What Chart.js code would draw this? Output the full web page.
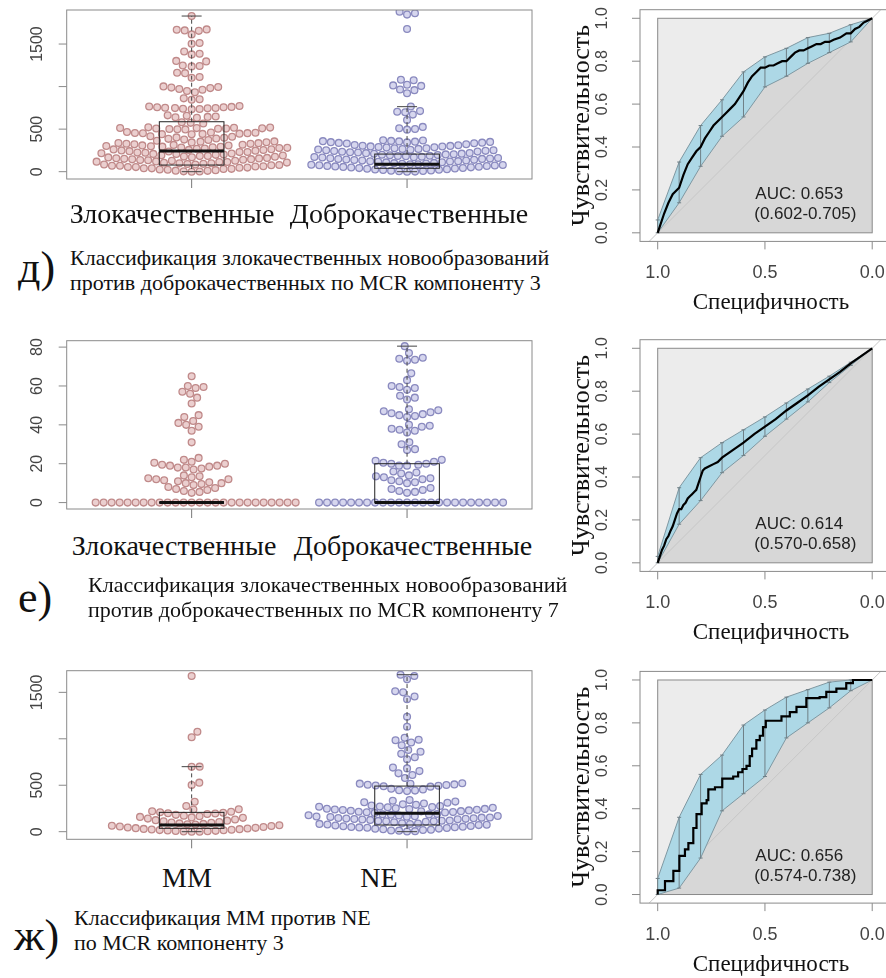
<!DOCTYPE html>
<html>
<head>
<meta charset="utf-8">
<script src="https://cdn.jsdelivr.net/npm/chart.js@4.4.0/dist/chart.umd.min.js"></script>
<style>
  html, body { margin: 0; padding: 0; background: #fff; width: 886px; height: 978px; overflow: hidden; position: relative; }
  canvas { position: absolute; }
  .t { position: absolute; font-family: "Liberation Serif", "DejaVu Serif", "Noto Serif", "Tinos", "Times New Roman", Times, "Nimbus Roman", FreeSerif, Georgia, serif; color: #111; white-space: nowrap; }
  .grp { font-size: 28px; transform: translateX(-50%); }
  .num { font-size: 44px; line-height: 44px; }
  .cap { font-size: 22px; line-height: 25px; }
</style>
</head>
<body>
<canvas id="sw1" width="560" height="200" style="left:0;top:0"></canvas>
<canvas id="roc1" width="350" height="320" style="left:560px;top:0"></canvas>
<canvas id="sw2" width="560" height="200" style="left:0;top:330px"></canvas>
<canvas id="roc2" width="350" height="320" style="left:560px;top:325px"></canvas>
<canvas id="sw3" width="560" height="200" style="left:0;top:660px"></canvas>
<canvas id="roc3" width="350" height="323" style="left:560px;top:655px"></canvas>

<div class="t num" style="left:18px;top:246px">д)</div>
<div class="t cap" style="left:70px;top:245px">Классификация злокачественных новообразований<br>против доброкачественных по MCR компоненту 3</div>
<div class="t num" style="left:18px;top:576px">е)</div>
<div class="t cap" style="left:88px;top:572px">Классификация злокачественных новообразований<br>против доброкачественных по MCR компоненту 7</div>
<div class="t num" style="left:14px;top:914px">ж)</div>
<div class="t cap" style="left:74px;top:905px">Классификация MM против NE<br>по MCR компоненту 3</div>

<script>
// ---- data: д) MCR component 3, malignant vs benign ----
const groups1 = ["Злокачественные", "Доброкачественные"];
const malig3 = [1829, 1668, 1660, 1655, 1672, 1613, 1512, 1503, 1412, 1386, 1378, 1302, 1296, 1248, 1237, 1242, 1163, 1158, 1112, 1104,
  995, 988, 982, 972, 963, 1002, 948, 932, 862, 851, 846,
  772, 766, 761, 757, 751, 747, 744, 739, 736, 733, 758, 749, 662, 656, 648, 644, 639, 633, 581, 574, 566,
  521, 516, 512, 509, 507, 504, 501, 499, 518, 506, 514, 497, 466, 461, 455, 451, 447, 444, 439, 453, 458, 441,
  403, 410, 417, 363, 372, 377, 386, 390, 399,
  321, 327, 329, 335, 337, 344, 346, 353, 356,
  280, 285, 287, 292, 294, 299, 301, 307, 309, 315, 317,
  241, 247, 250, 254, 256, 262, 264, 270, 272, 278,
  201, 207, 209, 214, 216, 222, 224, 230, 232, 238,
  162, 168, 169, 175, 177, 183, 185, 191, 194, 198,
  121, 127, 128, 134, 136, 140, 145, 147, 151, 156, 158,
  83, 85, 91, 92, 98, 99, 105, 107, 113, 114, 118,
  41, 47, 48, 54, 55, 61, 63, 69, 70, 76, 78,
  0, 3, 4, 10, 12, 18, 22, 25, 31, 33, 39];
const benign3 = [1880, 1862, 1846, 1677, 1081, 1074, 1021, 1014, 1008, 966, 958, 921,
  766, 712, 704, 699, 671, 606, 526, 511, 502, 494,
  322, 331, 334, 338, 341, 344, 347, 350, 353, 356, 359, 362, 366, 369,
  283, 286, 290, 296, 297, 303, 305, 311, 313,
  243, 245, 251, 252, 258, 260, 266, 268, 274, 276,
  203, 205, 211, 212, 218, 220, 226, 228, 234, 236,
  161, 166, 170, 173, 176, 181, 184, 187, 192, 195, 199,
  123, 124, 130, 132, 138, 139, 143, 149, 150, 154, 157,
  81, 87, 88, 94, 96, 100, 103, 109, 110, 116, 119,
  42, 44, 49, 51, 56, 58, 62, 66, 68, 73, 75, 79,
  0, 1, 6, 8, 11, 15, 19, 23, 26, 30, 34, 38];
// box stats: low whisker, Q1, median, Q3, high whisker
const boxMalig3 = [0, 78, 243, 587, 1829];
const boxBenign3 = [0, 40, 86, 207, 764];
const yTicks1 = [0, 500, 1000, 1500];
const yTickLabels1 = ["0", "500", "", "1500"];

// ---- data: е) MCR component 7 ----
const malig7 = [65, 60, 59.5, 59, 57, 56, 54, 51, 45, 44, 42, 41, 40, 39, 37, 31,
  23, 22, 21, 20.5, 20, 19.5, 19, 19, 18.5, 18, 18, 17.5, 17,
  14, 13.5, 13, 12.5, 12, 12, 11.5, 11, 10.5, 10, 10, 9.5, 9, 8, 7.5, 7, 6.5, 6, 5.5, 5,
  0, 0, 0, 0, 0, 0, 0, 0, 0, 0, 0, 0, 0, 0, 0, 0, 0, 0, 0, 0, 0, 0, 0, 0, 0, 0];
const benign7 = [80.5, 77, 74.5, 74, 73.5, 73, 66.5, 63, 60, 59.5, 59, 58, 55, 54, 53,
  48, 47.5, 47, 46.5, 46, 45, 44.5, 44, 45.5, 40, 39.5, 39, 38, 37.5, 37, 36, 31, 30, 27.5, 27,
  22, 21.5, 21, 20.5, 20, 20, 19.5, 19, 19, 16, 15.5, 15, 14, 13.5, 13, 12.5, 12, 11, 10, 10.5, 11.5,
  7.5, 7, 6.5, 6, 5.5, 5,
  0, 0, 0, 0, 0, 0, 0, 0, 0, 0, 0, 0, 0, 0, 0, 0, 0, 0, 0, 0, 0, 0, 0, 0];
const boxMalig7 = [0, 0, 0, 0, 0];
const boxBenign7 = [0, 0, 0, 20, 80.5];
const yTicks2 = [0, 20, 40, 60, 80];
const yTickLabels2 = ["0", "20", "40", "60", "80"];

// ---- data: ж) MM vs NE, MCR component 3 ----
const groups3 = ["MM", "NE"];
const mm3 = [1676, 1076, 1016, 700, 698, 528, 503, 323, 277, 241, 238,
  220, 215, 209, 204, 199, 196, 190, 181, 172, 166, 159, 154, 149,
  141, 131, 124, 119, 111, 104, 99, 95, 89, 84, 79, 76, 69, 64, 61, 55, 50,
  45, 41, 38, 34, 30, 27, 24, 20, 17, 15, 12, 9, 7, 5, 3, 0, 0];
const ne3 = [1690, 1676, 1640, 1512, 1500, 1455, 1425, 1238, 1130, 1010, 990, 985, 960, 930,
  880, 861, 838, 801, 779, 690, 681, 652, 628, 611, 578,
  522, 517, 515, 509, 506, 503, 497, 494, 489, 485, 462, 455, 447, 442, 437,
  340, 333, 324, 317, 311, 303, 294, 289, 281, 277, 270,
  268, 263, 257, 253, 247, 243, 238, 233, 229, 221, 219, 214, 209, 207, 202, 265, 245, 236, 226, 211,
  191, 186, 183, 177, 174, 169, 167, 161, 158, 153, 151, 147, 141, 138, 133, 131, 127, 121, 118, 113, 111, 107, 102, 188, 144,
  116, 136, 164,
  91, 87, 82, 77, 74, 71, 66, 61, 58, 54, 51, 46, 42, 39, 33, 31, 26, 21, 18, 13, 11, 6, 2, 84, 48];
const boxMM3 = [0, 36, 72, 208, 700];
const boxNE3 = [0, 72, 198, 491, 1690];
const yTicks3 = [0, 500, 1000, 1500];
const yTickLabels3 = ["0", "500", "", "1500"];

// ---- ROC curves ----
const ciSpec = [1.0, 0.9, 0.8, 0.7, 0.6, 0.5, 0.4, 0.3, 0.2, 0.1, 0.0];
const rocTicksY = [0, 0.2, 0.4, 0.6, 0.8, 1.0];
const rocTicksX = [1.0, 0.5, 0.0];

const rocSpec1 = [1.0, 0.99, 0.97, 0.95, 0.93, 0.9, 0.88, 0.86, 0.84, 0.82, 0.8, 0.78, 0.76, 0.74, 0.72, 0.7, 0.68, 0.66, 0.64, 0.62,
  0.6, 0.58, 0.56, 0.54, 0.52, 0.5, 0.48, 0.46, 0.44, 0.42, 0.4, 0.38, 0.36, 0.34, 0.32, 0.3, 0.28, 0.26, 0.24, 0.22,
  0.2, 0.18, 0.15, 0.12, 0.1, 0.08, 0.06, 0.04, 0.02, 0.0];
const rocSens1 = [0, 0.03, 0.09, 0.14, 0.18, 0.21, 0.27, 0.32, 0.35, 0.38, 0.40, 0.44, 0.47, 0.50, 0.52, 0.54, 0.56, 0.58, 0.60, 0.63,
  0.66, 0.70, 0.73, 0.75, 0.77, 0.77, 0.78, 0.78, 0.79, 0.80, 0.80, 0.82, 0.84, 0.85, 0.85, 0.86, 0.87, 0.88, 0.88, 0.89,
  0.89, 0.90, 0.91, 0.93, 0.93, 0.95, 0.96, 0.98, 0.99, 1.0];
const ciLow1 = [0.0, 0.14, 0.31, 0.45, 0.54, 0.68, 0.73, 0.79, 0.84, 0.89, 1.0];
const ciHigh1 = [0.06, 0.33, 0.50, 0.62, 0.75, 0.82, 0.86, 0.91, 0.93, 0.97, 1.0];
const auc1 = ["AUC: 0.653", "(0.602-0.705)"];

const rocSpec2 = [1.0, 0.99, 0.98, 0.97, 0.96, 0.95, 0.94, 0.93, 0.92, 0.91, 0.9, 0.89, 0.88, 0.87, 0.86, 0.85, 0.84, 0.83, 0.82, 0.81,
  0.8, 0.79, 0.78, 0.76, 0.74, 0.72, 0.7, 0.65, 0.6, 0.55, 0.5, 0.45, 0.4, 0.35, 0.3, 0.25, 0.2, 0.15, 0.1, 0.05, 0.0];
const rocSens2 = [0, 0.03, 0.06, 0.08, 0.11, 0.125, 0.15, 0.17, 0.2, 0.23, 0.25, 0.25, 0.27, 0.28, 0.30, 0.31, 0.32, 0.33, 0.34, 0.37,
  0.40, 0.43, 0.44, 0.45, 0.46, 0.47, 0.49, 0.525, 0.56, 0.60, 0.635, 0.67, 0.71, 0.745, 0.78, 0.82, 0.855, 0.89, 0.93, 0.965, 1.0];
const ciLow2 = [0.0, 0.18, 0.29, 0.42, 0.50, 0.59, 0.67, 0.75, 0.84, 0.92, 1.0];
const ciHigh2 = [0.03, 0.35, 0.49, 0.56, 0.62, 0.68, 0.745, 0.81, 0.87, 0.935, 1.0];
const auc2 = ["AUC: 0.614", "(0.570-0.658)"];

const rocSpec3 = [1.0, 1.0, 0.966, 0.927, 0.899, 0.873, 0.857, 0.834, 0.819, 0.795, 0.772, 0.764, 0.733, 0.699, 0.648, 0.625, 0.605,
  0.586, 0.571, 0.56, 0.54, 0.524, 0.509, 0.496, 0.423, 0.384, 0.353, 0.307, 0.245, 0.214, 0.167, 0.121, 0.09, 0.0];
const rocSens3 = [0, 0.02, 0.0625, 0.11, 0.18, 0.21, 0.24, 0.31, 0.375, 0.425, 0.44, 0.49, 0.5, 0.54, 0.55, 0.57, 0.585,
  0.60, 0.645, 0.68, 0.72, 0.74, 0.78, 0.81, 0.83, 0.85, 0.875, 0.915, 0.92, 0.945, 0.96, 0.985, 1.0, 1.0];
const ciLow3 = [0.0, 0.03, 0.17, 0.39, 0.47, 0.55, 0.73, 0.80, 0.87, 0.95, 1.0];
const ciHigh3 = [0.075, 0.36, 0.56, 0.65, 0.79, 0.86, 0.92, 0.955, 0.99, 1.0, 1.0];
const auc3 = ["AUC: 0.656", "(0.574-0.738)"];

const SANS = '"Liberation Sans", Arial, sans-serif';
const SERIF = '"Liberation Serif", "DejaVu Serif", "Noto Serif", Tinos, "Times New Roman", Times, FreeSerif, serif';
const fills = ["#ebcfcf", "#d6d6ee"];
const borders = ["#c08a8a", "#8a8abf"];

// simple beeswarm: points sorted ascending, each placed nearest the centre without overlap
function swarm(pys, d) {
  const placed = [];
  return pys.map(y => {
    const cands = [0];
    placed.forEach(p => {
      const dy = y - p.y;
      if (Math.abs(dy) < d) {
        const dx = Math.sqrt(d * d - dy * dy);
        cands.push(p.x + dx, p.x - dx);
      }
    });
    cands.sort((a, b) => Math.abs(a) - Math.abs(b));
    let best = 0;
    for (const c of cands) {
      const hit = placed.some(p => (c - p.x) ** 2 + (y - p.y) ** 2 < d * d - 0.01);
      if (!hit) { best = c; break; }
    }
    placed.push({ x: best, y });
    return best;
  });
}

function swarmChart(id, series, boxes, yMin, yMax, ticks, tickLabels, pad, names, nameX, nameY) {
  const plugin = {
    id: "boxes",
    afterDatasetsDraw(chart) {
      const { ctx, chartArea: a, scales: { x, y } } = chart;
      const unit = x.getPixelForValue(2) - x.getPixelForValue(1);
      ctx.save();
      boxes.forEach((s, i) => {
        const cx = x.getPixelForValue(i + 1);
        const hw = 0.15 * unit;
        const [lo, q1, med, q3, hi] = s.map(v => y.getPixelForValue(v));
        ctx.strokeStyle = "#444";
        ctx.lineWidth = 1;
        ctx.setLineDash([4, 3]);
        ctx.beginPath();
        ctx.moveTo(cx, q3); ctx.lineTo(cx, hi);
        ctx.moveTo(cx, q1); ctx.lineTo(cx, lo);
        ctx.stroke();
        ctx.setLineDash([]);
        ctx.beginPath();
        ctx.moveTo(cx - 10, hi); ctx.lineTo(cx + 10, hi);
        ctx.moveTo(cx - 10, lo); ctx.lineTo(cx + 10, lo);
        ctx.stroke();
        ctx.strokeStyle = "#222";
        ctx.strokeRect(cx - hw, q3, 2 * hw, q1 - q3);
        ctx.lineWidth = 3;
        ctx.strokeStyle = "#111";
        ctx.beginPath();
        ctx.moveTo(cx - hw, med); ctx.lineTo(cx + hw, med);
        ctx.stroke();
        ctx.lineWidth = 1;
        ctx.strokeStyle = "#777";
        ctx.beginPath();
        ctx.moveTo(cx, a.bottom); ctx.lineTo(cx, a.bottom + 9);
        ctx.stroke();
      });
      ctx.strokeStyle = "#8a8a8a";
      ctx.lineWidth = 1;
      ctx.strokeRect(a.left, a.top, a.width, a.height);
      ctx.fillStyle = "#444";
      ctx.font = "16px " + SANS;
      ctx.textAlign = "center";
      ctx.textBaseline = "middle";
      ticks.forEach((t, k) => {
        const py = y.getPixelForValue(t);
        ctx.beginPath();
        ctx.moveTo(a.left - 8, py); ctx.lineTo(a.left, py);
        ctx.stroke();
        if (tickLabels[k]) {
          ctx.save();
          ctx.translate(a.left - 29, py);
          ctx.rotate(-Math.PI / 2);
          ctx.fillText(tickLabels[k], 0, 0);
          ctx.restore();
        }
      });
      ctx.restore();
    }
  };
  const chart = new Chart(document.getElementById(id), {
    type: "scatter",
    data: {
      datasets: series.map((v, i) => ({
        data: [],
        pointRadius: 3.4,
        pointBorderWidth: 1.3,
        pointBackgroundColor: fills[i],
        pointBorderColor: borders[i]
      }))
    },
    options: {
      responsive: false,
      animation: false,
      devicePixelRatio: 1,
      layout: { padding: pad },
      plugins: { legend: { display: false }, tooltip: { enabled: false } },
      scales: {
        x: { type: "linear", min: 0.42, max: 2.58, display: false },
        y: { type: "linear", min: yMin, max: yMax, display: false }
      }
    },
    plugins: [plugin]
  });
  const xs = chart.scales.x, ys = chart.scales.y;
  const unit = xs.getPixelForValue(2) - xs.getPixelForValue(1);
  series.forEach((v, i) => {
    const sorted = [...v].sort((a, b) => a - b);
    const off = swarm(sorted.map(q => ys.getPixelForValue(q)), 8);
    chart.data.datasets[i].data = sorted.map((q, k) => ({ x: i + 1 + off[k] / unit, y: q }));
  });
  chart.update();
  names.forEach((n, i) => {
    const d = document.createElement("div");
    d.className = "t grp";
    d.textContent = n;
    d.style.left = nameX[i] + "px";
    d.style.top = nameY + "px";
    document.body.appendChild(d);
  });
}

function rocChart(id, spec, sens, ciLo, ciHi, auc, stepped, pad) {
  const plugin = {
    id: "rocdeco",
    beforeDatasetsDraw(chart) {
      const { ctx, chartArea: a, scales: { x, y } } = chart;
      const X = v => x.getPixelForValue(v), Y = v => y.getPixelForValue(v);
      ctx.save();
      ctx.fillStyle = "#ececec";
      ctx.fillRect(X(1), Y(1), X(0) - X(1), Y(0) - Y(1));
      // area under the curve
      ctx.fillStyle = "#d7d7d7";
      ctx.beginPath();
      ctx.moveTo(X(spec[0]), Y(0));
      spec.forEach((s, k) => {
        if (stepped && k > 0) ctx.lineTo(X(s), Y(sens[k - 1]));
        ctx.lineTo(X(s), Y(sens[k]));
      });
      ctx.lineTo(X(0), Y(0));
      ctx.closePath();
      ctx.fill();
      ctx.strokeStyle = "#8a8a8a";
      ctx.lineWidth = 1;
      ctx.strokeRect(X(1), Y(1), X(0) - X(1), Y(0) - Y(1));
      ctx.beginPath();
      ctx.rect(a.left, a.top, a.width, a.height);
      ctx.clip();
      ctx.strokeStyle = "#c6c6c6";
      ctx.beginPath();
      ctx.moveTo(X(1.2), Y(-0.2)); ctx.lineTo(X(-0.2), Y(1.2));
      ctx.stroke();
      ctx.restore();
    },
    beforeDatasetDraw(chart, args) {
      if (args.index !== 2) return;
      const { ctx, scales: { x, y } } = chart;
      ctx.save();
      ctx.strokeStyle = "#6f7f86";
      ctx.lineWidth = 1;
      ctx.beginPath();
      ciSpec.forEach((s, k) => {
        if (ciHi[k] - ciLo[k] < 0.001) return;
        const px = x.getPixelForValue(s);
        const lo = y.getPixelForValue(ciLo[k]), hi = y.getPixelForValue(ciHi[k]);
        ctx.moveTo(px, lo); ctx.lineTo(px, hi);
        ctx.moveTo(px - 2, lo); ctx.lineTo(px + 2, lo);
        ctx.moveTo(px - 2, hi); ctx.lineTo(px + 2, hi);
      });
      ctx.stroke();
      ctx.restore();
    },
    afterDraw(chart) {
      const { ctx, chartArea: a, scales: { x, y } } = chart;
      const X = v => x.getPixelForValue(v), Y = v => y.getPixelForValue(v);
      ctx.save();
      ctx.strokeStyle = "#8a8a8a";
      ctx.lineWidth = 1;
      ctx.strokeRect(a.left, a.top, a.width, a.height);
      ctx.fillStyle = "#444";
      ctx.textAlign = "center";
      ctx.textBaseline = "middle";
      ctx.font = "16px " + SANS;
      rocTicksY.forEach(t => {
        const py = Y(t);
        ctx.beginPath(); ctx.moveTo(a.left - 8, py); ctx.lineTo(a.left, py); ctx.stroke();
        ctx.save();
        ctx.translate(a.left - 37, py);
        ctx.rotate(-Math.PI / 2);
        ctx.fillText(t.toFixed(1), 0, 0);
        ctx.restore();
      });
      ctx.font = "18px " + SANS;
      rocTicksX.forEach(t => {
        const px = X(t);
        ctx.beginPath(); ctx.moveTo(px, a.bottom); ctx.lineTo(px, a.bottom + 8); ctx.stroke();
        ctx.fillText(t.toFixed(1), px, a.bottom + 32);
      });
      ctx.fillStyle = "#111";
      ctx.font = "23px " + SERIF;
      ctx.fillText("Специфичность", X(0.5) + 6, a.bottom + 62);
      ctx.font = "26px " + SERIF;
      ctx.save();
      ctx.translate(a.left - 58, (a.top + a.bottom) / 2);
      ctx.rotate(-Math.PI / 2);
      ctx.fillText("Чувствительность", 0, 0);
      ctx.restore();
      ctx.fillStyle = "#222";
      ctx.font = "17px " + SANS;
      ctx.textAlign = "left";
      ctx.fillText(auc[0], X(0.545), Y(0.18));
      ctx.fillText(auc[1], X(0.55), Y(0.087));
      ctx.restore();
    }
  };
  new Chart(document.getElementById(id), {
    type: "line",
    data: {
      datasets: [
        { data: ciSpec.map((s, k) => ({ x: s, y: ciHi[k] })), borderColor: "#7f98a2", borderWidth: 1,
          backgroundColor: "#add8e6", fill: "+1", pointRadius: 0, order: 2 },
        { data: ciSpec.map((s, k) => ({ x: s, y: ciLo[k] })), borderColor: "#7f98a2", borderWidth: 1,
          fill: false, pointRadius: 0, order: 1 },
        { data: spec.map((s, k) => ({ x: s, y: sens[k] })), borderColor: "#000", borderWidth: 2.2,
          stepped: stepped ? "before" : false, fill: false, pointRadius: 0, order: 0 }
      ]
    },
    options: {
      responsive: false,
      animation: false,
      devicePixelRatio: 1,
      layout: { padding: pad },
      plugins: { legend: { display: false }, tooltip: { enabled: false } },
      scales: {
        x: { type: "linear", reverse: true, min: -0.0825, max: 1.0825, display: false },
        y: { type: "linear", min: -0.04, max: 1.04, display: false }
      }
    },
    plugins: [plugin]
  });
}

swarmChart("sw1", [malig3, benign3], [boxMalig3, boxBenign3], -86, 1900, yTicks1, yTickLabels1,
  { left: 66.7, right: 28, top: 10, bottom: 21 }, groups1, [172, 409], 198);
swarmChart("sw2", [malig7, benign7], [boxMalig7, boxBenign7], -3.3, 83.3, yTicks2, yTickLabels2,
  { left: 66.7, right: 28, top: 10.7, bottom: 21 }, groups1, [174, 413], 530);
swarmChart("sw3", [mm3, ne3], [boxMM3, boxNE3], -82, 1733, yTicks3, yTickLabels3,
  { left: 66.7, right: 28, top: 10.7, bottom: 20.7 }, groups3, [187, 379], 862);

rocChart("roc1", rocSpec1, rocSens1, ciLow1, ciHigh1, auc1, false, { left: 80, right: 20.1, top: 9.7, bottom: 78.6 });
rocChart("roc2", rocSpec2, rocSens2, ciLow2, ciHigh2, auc2, false, { left: 80, right: 20.1, top: 14.7, bottom: 73.6 });
rocChart("roc3", rocSpec3, rocSens3, ciLow3, ciHigh3, auc3, true, { left: 80, right: 20.1, top: 16.4, bottom: 74.9 });
</script>
</body>
</html>
